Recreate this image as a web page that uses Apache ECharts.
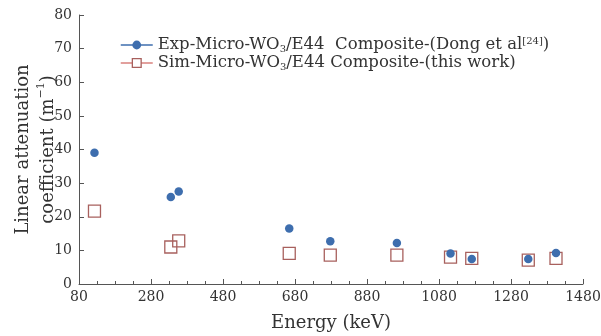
<!DOCTYPE html>
<html>
<head>
<meta charset="utf-8">
<script src="https://cdn.jsdelivr.net/npm/echarts@6/dist/echarts.min.js"></script>
<style>
  html, body { margin: 0; padding: 0; background: #fff; }
  #chart { width: 601px; height: 336px; }
</style>
</head>
<body>
<div id="chart"></div>
<script>
// Gamma energies (keV) and linear attenuation coefficients (m^-1)
const energy = [123, 335, 357, 664, 778, 963, 1112, 1171, 1328, 1405];
const expValues = [39.0, 25.9, 27.5, 16.5, 12.7, 12.2, 9.1, 7.4, 7.4, 9.2];
const simValues = [21.7, 11.0, 12.8, 9.1, 8.6, 8.6, 8.0, 7.6, 7.1, 7.6];

const xTicks = [80, 280, 480, 680, 880, 1080, 1280, 1480];
const yTicks = [0, 10, 20, 30, 40, 50, 60, 70, 80];

const expName = 'Exp';
const simName = 'Sim';

const FONT = '"DejaVu Serif", "Liberation Serif", serif';
const AXIS_COLOR = '#555';
const TEXT_COLOR = '#333';
const BLUE = '#3e6eae';
const RED = '#a8605d';

const chart = echarts.init(document.getElementById('chart'), null, { renderer: 'canvas' });

const pairs = (vals) => energy.map((e, i) => [e, vals[i]]);

chart.setOption({
  animation: false,
  backgroundColor: '#fff',
  grid: { left: 79, right: 18, top: 15, bottom: 52, outerBoundsMode: 'none', containLabel: false },
  legend: {
    left: 120,
    top: 36,
    padding: 0,
    orient: 'vertical',
    itemWidth: 32,
    itemHeight: 11,
    itemGap: 0,
    data: [
      { name: expName, itemStyle: { color: BLUE }, lineStyle: { color: BLUE, width: 1.5, opacity: 1 } },
      { name: simName, itemStyle: { color: '#fff', borderColor: RED, borderWidth: 1.3 }, lineStyle: { color: '#d9807c', width: 1.5, opacity: 1 } }
    ],
    formatter: (name) => name === expName
      ? 'Exp-Micro-WO{sub|3}/E44  Composite-(Dong et al{sup|[24]})'
      : 'Sim-Micro-WO{sub|3}/E44 Composite-(this work)',
    textStyle: {
      fontFamily: FONT,
      fontSize: 16.5,
      color: TEXT_COLOR,
      lineHeight: 18,
      rich: {
        sub: { fontFamily: FONT, fontSize: 10, color: TEXT_COLOR, verticalAlign: 'bottom', lineHeight: 18, padding: [8, 0, 0, 0] },
        sup: { fontFamily: FONT, fontSize: 10, color: TEXT_COLOR, verticalAlign: 'top', lineHeight: 18, padding: [0, 0, 8, 0] }
      }
    }
  },
  xAxis: {
    type: 'value',
    min: xTicks[0],
    max: xTicks[xTicks.length - 1],
    interval: 200,
    name: 'Energy (keV)',
    nameLocation: 'middle',
    nameGap: 30,
    nameMoveOverlap: false,
    nameTextStyle: { fontFamily: FONT, fontSize: 18, color: TEXT_COLOR },
    axisLine: { lineStyle: { color: AXIS_COLOR, width: 1 } },
    axisTick: { inside: true, length: 5, lineStyle: { color: AXIS_COLOR } },
    minorTick: { show: true, splitNumber: 4, length: 3, lineStyle: { color: AXIS_COLOR } },
    splitLine: { show: false },
    axisLabel: { fontFamily: FONT, fontSize: 14, color: TEXT_COLOR, margin: 6, formatter: (v) => String(v) }
  },
  yAxis: {
    type: 'value',
    min: yTicks[0],
    max: yTicks[yTicks.length - 1],
    interval: 10,
    name: '{t|Linear attenuation}\n{t|coefficient (m}{sup|−1}{t|)}',
    nameLocation: 'middle',
    nameRotate: 90,
    nameGap: 18,
    nameMoveOverlap: false,
    nameTextStyle: {
      fontFamily: FONT,
      fontSize: 18,
      color: TEXT_COLOR,
      lineHeight: 25,
      rich: {
        t: { fontFamily: FONT, fontSize: 18, color: TEXT_COLOR, lineHeight: 25 },
        sup: { fontFamily: FONT, fontSize: 11, color: TEXT_COLOR, verticalAlign: 'top', lineHeight: 25, padding: [0, 0, 9, 0] }
      }
    },
    axisLine: { show: true, lineStyle: { color: AXIS_COLOR, width: 1 } },
    axisTick: { show: true, inside: true, length: 5, lineStyle: { color: AXIS_COLOR } },
    splitLine: { show: false },
    axisLabel: { fontFamily: FONT, fontSize: 14, color: TEXT_COLOR, margin: 7, formatter: (v) => String(v) }
  },
  series: [
    {
      name: simName,
      type: 'line',
      data: pairs(simValues),
      symbol: 'rect',
      symbolSize: 12,
      lineStyle: { width: 0, opacity: 0 },
      itemStyle: { color: 'rgba(255,255,255,0)', borderColor: RED, borderWidth: 1.3 },
      z: 2
    },
    {
      name: expName,
      type: 'line',
      data: pairs(expValues),
      symbol: 'circle',
      symbolSize: 8.5,
      lineStyle: { width: 0, opacity: 0 },
      itemStyle: { color: BLUE },
      z: 3
    }
  ]
});
</script>
</body>
</html>
